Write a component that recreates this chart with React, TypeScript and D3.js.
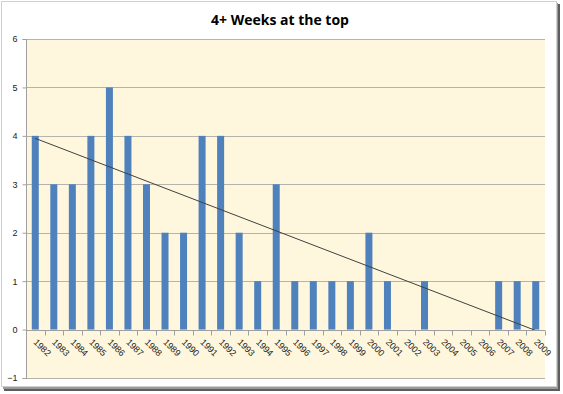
import React, { useEffect, useRef } from 'react';
import * as d3 from 'd3';

const years = [
  '1982', '1983', '1984', '1985', '1986', '1987', '1988', '1989', '1990', '1991',
  '1992', '1993', '1994', '1995', '1996', '1997', '1998', '1999', '2000', '2001',
  '2002', '2003', '2004', '2005', '2006', '2007', '2008', '2009',
];
const weeks = [4, 3, 3, 4, 5, 4, 3, 2, 2, 4, 4, 2, 1, 3, 1, 1, 1, 1, 2, 1, 0, 1, 0, 0, 0, 1, 1, 1];
const yTicks = [-1, 0, 1, 2, 3, 4, 5, 6];
const title = '4+ Weeks at the top';

export default function App() {
  const ref = useRef<SVGSVGElement>(null);

  useEffect(() => {
    const svg = d3.select(ref.current);
    svg.selectAll('*').remove();

    // frame + shadow
    svg.append('rect').attr('x', 4).attr('y', 4).attr('width', 556).attr('height', 387).attr('fill', '#5e5e5e');
    svg.append('rect').attr('x', 3).attr('y', 3).attr('width', 555).attr('height', 386).attr('fill', '#9a9a9a');
    svg.append('rect').attr('x', 1.5).attr('y', 1.5).attr('width', 555).attr('height', 385)
      .attr('fill', '#fff').attr('stroke', '#d0d0d0');

    const left = 26, right = 545, top = 39, bottom = 378;

    const x = d3.scaleBand().domain(years).range([left, right]);
    const y = d3.scaleLinear().domain([-1, 6]).range([bottom, top]);

    svg.append('rect').attr('x', left).attr('y', top).attr('width', right - left).attr('height', bottom - top)
      .attr('fill', '#fef7dd');

    // gridlines
    svg.append('g').selectAll('line').data(yTicks).enter().append('line')
      .attr('x1', left).attr('x2', right)
      .attr('y1', (d) => Math.round(y(d)) + 0.5).attr('y2', (d) => Math.round(y(d)) + 0.5)
      .attr('stroke', '#b4b4ac').attr('stroke-width', 1);

    // bars
    const bw = 7;
    svg.append('g').selectAll('rect').data(weeks).enter().append('rect')
      .attr('x', (d, i) => x(years[i])! + x.bandwidth() / 2 - bw / 2)
      .attr('y', (d) => y(d))
      .attr('width', bw)
      .attr('height', (d) => y(0) - y(d))
      .attr('fill', '#4f81bd');

    // linear trend
    const n = weeks.length;
    const mx = d3.mean(weeks.map((d, i) => i))!;
    const my = d3.mean(weeks)!;
    const sxy = d3.sum(weeks.map((d, i) => (i - mx) * (d - my)));
    const sxx = d3.sum(weeks.map((d, i) => (i - mx) * (i - mx)));
    const slope = sxy / sxx;
    const icpt = my - slope * mx;
    const cx = (i: number) => x(years[i])! + x.bandwidth() / 2;
    svg.append('line')
      .attr('x1', cx(0)).attr('y1', y(icpt))
      .attr('x2', cx(n - 1)).attr('y2', y(icpt + slope * (n - 1)))
      .attr('stroke', '#404040').attr('stroke-width', 1);

    // y axis
    const yAxis = svg.append('g').attr('transform', `translate(${left + 0.5},0)`)
      .call(d3.axisLeft(y).tickValues(yTicks).tickSize(4).tickFormat(d3.format('d')));
    yAxis.select('.domain').attr('stroke', '#a0a0a0').attr('d', `M-4,${Math.round(y(6)) + 0.5}H0V${Math.round(y(-1)) + 0.5}H-4`);
    yAxis.selectAll('.tick line').attr('stroke', '#a0a0a0');
    yAxis.selectAll('text').attr('font-family', 'Liberation Sans, Arial, sans-serif').attr('font-size', 9)
      .attr('fill', '#222').attr('x', -9);

    // x axis at zero
    const y0 = Math.round(y(0)) + 0.5;
    const xg = svg.append('g');
    xg.append('line').attr('x1', left).attr('x2', right).attr('y1', y0).attr('y2', y0).attr('stroke', '#a0a0a0');
    xg.selectAll('line.tk').data(d3.range(years.length + 1)).enter().append('line').attr('class', 'tk')
      .attr('x1', (i) => Math.round(left + i * x.step()) + 0.5).attr('x2', (i) => Math.round(left + i * x.step()) + 0.5)
      .attr('y1', y0).attr('y2', y0 + 5).attr('stroke', '#a0a0a0');
    xg.selectAll('text').data(years).enter().append('text')
      .attr('transform', (d) => `translate(${x(d)! + x.bandwidth() / 2},${y0 + 10}) rotate(45)`)
      .attr('font-family', 'Liberation Sans, Arial, sans-serif').attr('font-size', 9).attr('fill', '#222')
      .attr('dy', '0.35em')
      .text((d) => d);

    svg.append('text').attr('x', 280).attr('y', 25).attr('text-anchor', 'middle')
      .attr('font-family', 'Open Sans, Liberation Sans, sans-serif').attr('font-weight', 'bold').attr('font-size', 14)
      .attr('fill', '#000').text(title);
  }, []);

  return (
    <svg ref={ref} width={563} height={394} style={{ position: 'absolute', left: 0, top: 0 }} />
  );
}
